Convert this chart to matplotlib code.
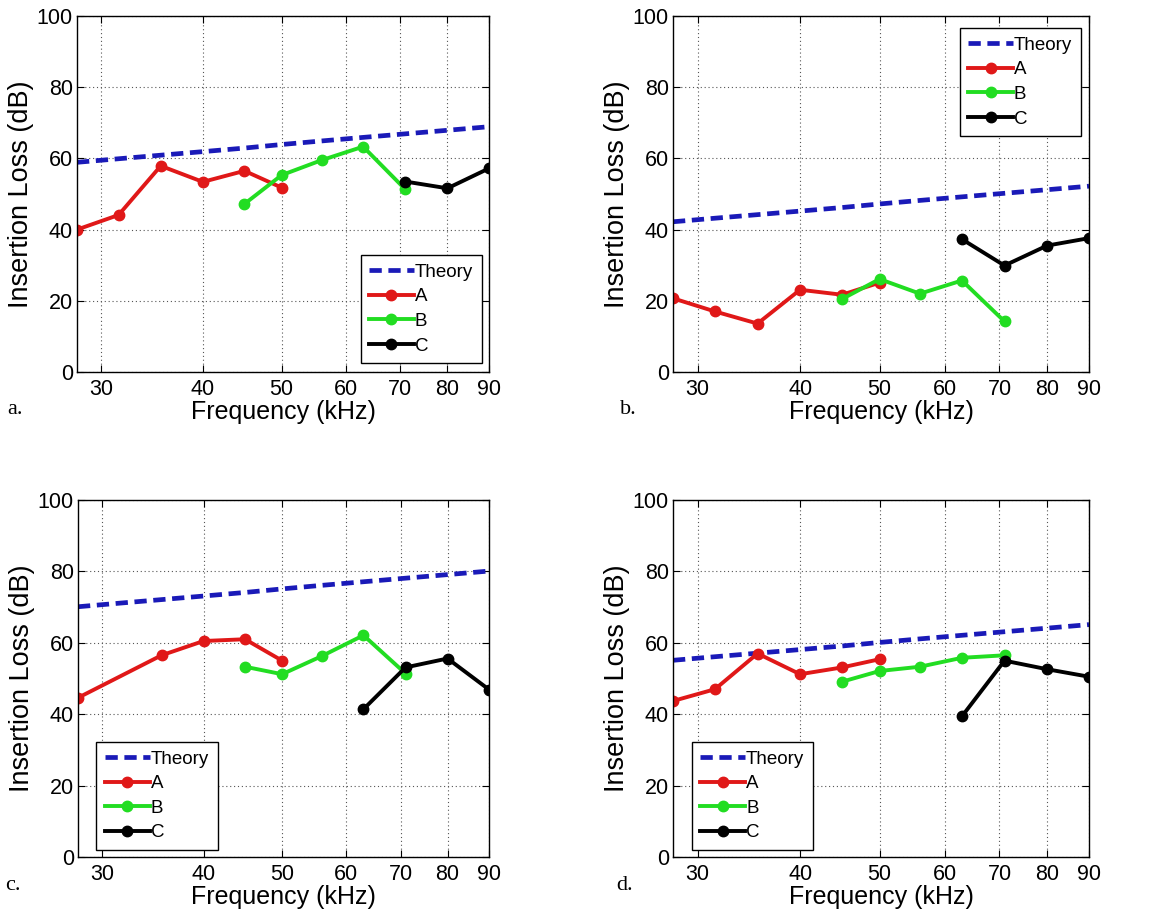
import matplotlib
matplotlib.use("Agg")
import matplotlib.pyplot as plt
from matplotlib.ticker import FixedLocator, FixedFormatter, NullLocator

plt.rcParams['font.family'] = ['Liberation Sans', 'DejaVu Sans']

# 1/3-octave band centre frequencies (kHz)
freq_A = [28, 31.5, 35.5, 40, 45, 50]
freq_A_c = [28, 35.5, 40, 45, 50]
freq_B = [45, 50, 56, 63, 71]
freq_C_a = [71, 80, 90]
freq_C = [63, 71, 80, 90]
freq_theory = [28, 31.5, 35.5, 40, 45, 50, 56, 63, 71, 80, 90]

# Panel a
theory_a = [58.9, 59.9, 60.9, 61.9, 62.9, 63.9, 64.9, 65.9, 66.9, 67.9, 68.9]
A_a = [40.0, 44.1, 57.9, 53.4, 56.5, 51.8]
B_a = [47.2, 55.3, 59.5, 63.3, 51.3]
C_a = [53.5, 51.6, 57.2]

# Panel b
theory_b = [42.2, 43.2, 44.2, 45.2, 46.2, 47.2, 48.2, 49.2, 50.2, 51.2, 52.2]
A_b = [20.7, 17.0, 13.6, 23.1, 21.7, 25.1]
B_b = [20.5, 26.1, 22.0, 25.7, 14.2]
C_b = [37.3, 29.9, 35.5, 37.6]

# Panel c
theory_c = [70.1, 71.1, 72.1, 73.1, 74.1, 75.1, 76.1, 77.1, 78.1, 79.1, 80.1]
A_c = [44.6, 56.5, 60.5, 61.0, 55.0]
B_c = [53.3, 51.2, 56.3, 62.1, 51.4]
C_c = [41.4, 53.1, 55.6, 46.9]

# Panel d
theory_d = [55.1, 56.1, 57.1, 58.1, 59.1, 60.1, 61.1, 62.1, 63.1, 64.1, 65.1]
A_d = [43.7, 47.0, 57.0, 51.2, 53.1, 55.4]
B_d = [49.1, 52.1, 53.3, 55.8, 56.5]
C_d = [39.4, 55.0, 52.6, 50.5]

xticks = [30, 40, 50, 60, 70, 80, 90]
xticklabels = ['30', '40', '50', '60', '70', '80', '90']
yticks = [0, 20, 40, 60, 80, 100]
panel_labels = ['a.', 'b.', 'c.', 'd.']

W, H = 1155, 916
fig = plt.figure(figsize=(W / 100, H / 100), dpi=100)

# axes boxes in pixels: left, right, top, bottom
boxes = [
    (77, 489, 16, 372),
    (673, 1089, 16, 372),
    (78, 489, 500, 857),
    (673, 1089, 500, 857),
]

panels = [
    (freq_A, A_a, freq_B, B_a, freq_C_a, C_a, theory_a),
    (freq_A, A_b, freq_B, B_b, freq_C, C_b, theory_b),
    (freq_A_c, A_c, freq_B, B_c, freq_C, C_c, theory_c),
    (freq_A, A_d, freq_B, B_d, freq_C, C_d, theory_d),
]

# legend anchors (axes fraction) and locations
legend_specs = [
    ('lower right', (0.982, 0.025)),
    ('upper right', (0.980, 0.966)),
    ('lower left', (0.045, 0.020)),
    ('lower left', (0.045, 0.020)),
]

label_pos = [(15, 410), (628, 410), (13, 886), (625, 886)]

blue = '#1a1ab8'
red = '#e01818'
green = '#22dd22'
black = '#000000'

for i, (box, data) in enumerate(zip(boxes, panels)):
    l, r, t, b = box
    ax = fig.add_axes([l / W, 1 - b / H, (r - l) / W, (b - t) / H])
    fa, ya, fb, yb, fc, yc, th = data
    ax.plot(freq_theory, th, '--', color=blue, lw=3.4, dashes=(2.6, 1.4), label='Theory')
    ax.plot(fa, ya, '-o', color=red, lw=2.8, ms=7.5, label='A')
    ax.plot(fb, yb, '-o', color=green, lw=2.8, ms=7.5, label='B')
    ax.plot(fc, yc, '-o', color=black, lw=2.8, ms=7.5, label='C')
    ax.set_xscale('log')
    ax.set_xlim(28, 90)
    ax.set_ylim(0, 100)
    ax.xaxis.set_major_locator(FixedLocator(xticks))
    ax.xaxis.set_major_formatter(FixedFormatter(xticklabels))
    ax.xaxis.set_minor_locator(NullLocator())
    ax.set_yticks(yticks)
    ax.tick_params(direction='in', labelsize=15.5, length=5, top=True, right=True)
    ax.tick_params(axis='x', pad=5)
    ax.tick_params(axis='y', pad=3)
    ax.grid(True, which='major', linestyle=(0, (1, 2.5)), color='#555555', lw=0.8)
    ax.set_xlabel('Frequency (kHz)', fontsize=18, labelpad=0)
    ax.set_ylabel('Insertion Loss (dB)', fontsize=19.5, labelpad=2)
    for s in ax.spines.values():
        s.set_linewidth(1.0)
    loc, anchor = legend_specs[i]
    leg = ax.legend(loc=loc, bbox_to_anchor=anchor, fontsize=13.5, frameon=True,
                    fancybox=False, edgecolor='black', framealpha=1,
                    handlelength=2.4, handletextpad=0.05, labelspacing=0.4,
                    borderpad=0.45, borderaxespad=0)
    leg.get_frame().set_linewidth(1.0)
    x, y = label_pos[i]
    fig.text(x / W, 1 - y / H, panel_labels[i], fontsize=16, family='Liberation Serif',
             ha='center', va='center')

fig.savefig('out.png', dpi=100)
